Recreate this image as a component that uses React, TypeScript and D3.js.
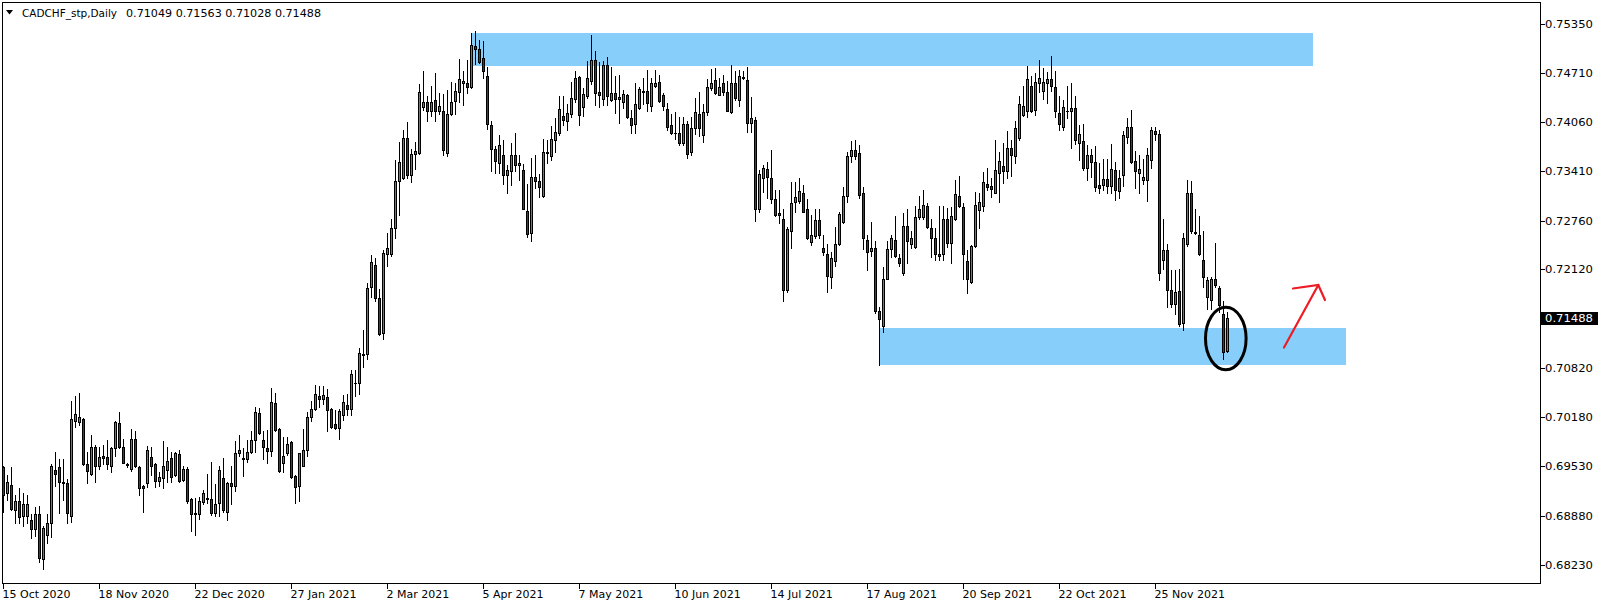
import React from 'react';
import * as d3 from 'd3';

const symbolTitle = 'CADCHF_stp,Daily';
const lastBarText = '0.71049 0.71563 0.71028 0.71488';

const open = [
0.6952,0.6918,0.6928,0.6895,0.6907,0.6887,0.6887,0.6883,0.6870,0.6890,
0.6831,0.6862,0.6878,0.6948,0.6952,0.6933,0.6931,0.6887,0.7012,0.7011,
0.7015,0.6956,0.6943,0.6979,0.6953,0.6966,0.6965,0.6954,0.6977,0.7010,
0.6978,0.6956,0.6949,0.6989,0.6952,0.6927,0.6931,0.6965,0.6956,0.6934,
0.6937,0.6948,0.6964,0.6942,0.6969,0.6935,0.6950,0.6910,0.6892,0.6890,
0.6906,0.6910,0.6910,0.6892,0.6905,0.6937,0.6893,0.6931,0.6927,0.6970,
0.6964,0.6963,0.6972,0.6987,0.7023,0.6987,0.6977,0.6973,0.7036,0.7002,
0.6958,0.6971,0.6985,0.6940,0.6927,0.6954,0.6975,0.7018,0.7029,0.7045,
0.7041,0.7044,0.7028,0.7009,0.7004,0.7021,0.7034,0.7029,0.7062,0.7063,
0.7100,0.7101,0.7189,0.7218,0.7175,0.7128,0.7233,0.7233,0.7266,0.7329,
0.7333,0.7385,0.7336,0.7364,0.7365,0.7426,0.7433,0.7421,0.7435,0.7420,
0.7421,0.7365,0.7416,0.7434,0.7445,0.7457,0.7457,0.7452,0.7506,0.7502,
0.7490,0.7467,0.7402,0.7370,0.7352,0.7363,0.7336,0.7342,0.7362,0.7349,
0.7343,0.7289,0.7260,0.7334,0.7329,0.7309,0.7365,0.7361,0.7383,0.7391,
0.7414,0.7407,0.7416,0.7436,0.7465,0.7426,0.7440,0.7460,0.7488,0.7446,
0.7436,0.7481,0.7435,0.7444,0.7436,0.7432,0.7442,0.7411,0.7404,0.7424,
0.7446,0.7447,0.7427,0.7453,0.7459,0.7441,0.7423,0.7402,0.7392,0.7391,
0.7378,0.7404,0.7366,0.7398,0.7417,0.7389,0.7419,0.7451,0.7461,0.7442,
0.7457,0.7446,0.7419,0.7457,0.7435,0.7464,0.7461,0.7405,0.7409,0.7291,
0.7332,0.7344,0.7333,0.7305,0.7286,0.7279,0.7185,0.7262,0.7301,0.7302,
0.7312,0.7291,0.7248,0.7256,0.7277,0.7240,0.7233,0.7202,0.7223,0.7245,
0.7275,0.7309,0.7361,0.7369,0.7365,0.7312,0.7251,0.7236,0.7240,0.7157,
0.7137,0.7200,0.7239,0.7251,0.7227,0.7208,0.7269,0.7245,0.7242,0.7281,
0.7281,0.7296,0.7266,0.7254,0.7233,0.7233,0.7278,0.7247,0.7279,0.7309,
0.7294,0.7223,0.7195,0.7243,0.7290,0.7296,0.7325,0.7322,0.7313,0.7339,
0.7348,0.7342,0.7372,0.7361,0.7385,0.7415,0.7420,0.7454,0.7422,0.7457,
0.7447,0.7457,0.7462,0.7452,0.7418,0.7400,0.7420,0.7420,0.7424,0.7379,
0.7381,0.7345,0.7363,0.7354,0.7323,0.7323,0.7331,0.7322,0.7343,0.7315,
0.7336,0.7386,0.7399,0.7355,0.7339,0.7330,0.7330,0.7356,0.7394,0.7390,
0.7225,0.7238,0.7185,0.7166,0.7184,0.7142,0.7246,0.7313,0.7261,0.7257,
0.7224,0.7176,0.7172,0.7199,0.7187,0.7154,0.71049
];

const high = [
0.6954,0.6942,0.6952,0.6915,0.6925,0.6918,0.6915,0.6890,0.6900,0.6901,
0.6875,0.6890,0.6956,0.6972,0.6962,0.6962,0.6936,0.7039,0.7045,0.7050,
0.7016,0.6972,0.6994,0.6981,0.6978,0.6981,0.6987,0.6979,0.7013,0.7024,
0.6989,0.6958,0.7002,0.6999,0.6953,0.6928,0.6980,0.6978,0.6957,0.6945,
0.6986,0.6979,0.6972,0.6972,0.6974,0.6953,0.6952,0.6911,0.6911,0.6912,
0.6922,0.6943,0.6959,0.6930,0.6953,0.6964,0.6932,0.6953,0.6986,0.6994,
0.6977,0.6987,0.6999,0.7031,0.7030,0.6999,0.7001,0.7056,0.7049,0.7004,
0.6992,0.6991,0.6986,0.6942,0.6971,0.7002,0.7024,0.7039,0.7060,0.7059,
0.7059,0.7055,0.7030,0.7027,0.7028,0.7047,0.7048,0.7080,0.7080,0.7109,
0.7133,0.7194,0.7231,0.7227,0.7186,0.7237,0.7260,0.7279,0.7356,0.7380,
0.7396,0.7406,0.7371,0.7380,0.7456,0.7473,0.7440,0.7454,0.7470,0.7444,
0.7443,0.7448,0.7459,0.7457,0.7489,0.7473,0.7487,0.7523,0.7526,0.7514,
0.7512,0.7479,0.7408,0.7374,0.7389,0.7383,0.7350,0.7378,0.7391,0.7363,
0.7351,0.7324,0.7359,0.7363,0.7338,0.7384,0.7383,0.7401,0.7411,0.7440,
0.7440,0.7430,0.7459,0.7473,0.7467,0.7451,0.7486,0.7521,0.7500,0.7485,
0.7486,0.7492,0.7479,0.7466,0.7468,0.7448,0.7443,0.7422,0.7457,0.7452,
0.7464,0.7475,0.7464,0.7475,0.7468,0.7444,0.7431,0.7416,0.7419,0.7412,
0.7412,0.7408,0.7413,0.7438,0.7445,0.7430,0.7462,0.7476,0.7477,0.7464,
0.7468,0.7460,0.7481,0.7473,0.7474,0.7473,0.7479,0.7439,0.7413,0.7343,
0.7349,0.7353,0.7369,0.7316,0.7316,0.7291,0.7268,0.7327,0.7327,0.7332,
0.7323,0.7305,0.7284,0.7291,0.7291,0.7257,0.7246,0.7235,0.7268,0.7287,
0.7320,0.7367,0.7381,0.7382,0.7376,0.7320,0.7258,0.7274,0.7250,0.7163,
0.7215,0.7250,0.7257,0.7282,0.7233,0.7286,0.7291,0.7263,0.7295,0.7309,
0.7317,0.7299,0.7279,0.7266,0.7295,0.7295,0.7293,0.7294,0.7330,0.7335,
0.7300,0.7238,0.7244,0.7314,0.7312,0.7340,0.7345,0.7333,0.7382,0.7367,
0.7378,0.7394,0.7382,0.7407,0.7440,0.7453,0.7480,0.7466,0.7471,0.7488,
0.7477,0.7472,0.7493,0.7473,0.7440,0.7435,0.7453,0.7458,0.7440,0.7402,
0.7404,0.7376,0.7371,0.7375,0.7352,0.7358,0.7358,0.7377,0.7354,0.7343,
0.7394,0.7411,0.7422,0.7368,0.7363,0.7357,0.7372,0.7400,0.7399,0.7396,
0.7279,0.7246,0.7211,0.7211,0.7213,0.7260,0.7330,0.7329,0.7291,0.7282,
0.7262,0.7202,0.7202,0.7247,0.7190,0.7170,0.71563
];

const low = [
0.6893,0.6909,0.6896,0.6879,0.6879,0.6874,0.6879,0.6859,0.6861,0.6827,
0.6818,0.6852,0.6860,0.6927,0.6891,0.6909,0.6879,0.6880,0.7005,0.7007,
0.6955,0.6931,0.6941,0.6933,0.6949,0.6956,0.6950,0.6945,0.6967,0.6977,
0.6957,0.6952,0.6947,0.6952,0.6915,0.6893,0.6926,0.6942,0.6926,0.6927,
0.6925,0.6932,0.6932,0.6940,0.6933,0.6934,0.6905,0.6868,0.6862,0.6884,
0.6904,0.6905,0.6889,0.6887,0.6887,0.6893,0.6883,0.6904,0.6920,0.6967,
0.6940,0.6959,0.6971,0.6972,0.6995,0.6963,0.6957,0.6966,0.6999,0.6946,
0.6945,0.6968,0.6937,0.6905,0.6908,0.6953,0.6967,0.7012,0.7027,0.7031,
0.7035,0.7000,0.7004,0.7002,0.6989,0.7014,0.7020,0.7020,0.7046,0.7048,
0.7084,0.7094,0.7176,0.7171,0.7126,0.7120,0.7216,0.7230,0.7253,0.7284,
0.7331,0.7333,0.7327,0.7344,0.7364,0.7422,0.7408,0.7414,0.7408,0.7416,
0.7362,0.7361,0.7415,0.7417,0.7432,0.7428,0.7444,0.7451,0.7482,0.7484,
0.7464,0.7397,0.7341,0.7339,0.7339,0.7324,0.7313,0.7323,0.7341,0.7330,
0.7291,0.7255,0.7249,0.7319,0.7308,0.7308,0.7352,0.7356,0.7367,0.7389,
0.7402,0.7395,0.7413,0.7432,0.7402,0.7414,0.7438,0.7456,0.7428,0.7426,
0.7429,0.7429,0.7434,0.7418,0.7405,0.7425,0.7411,0.7392,0.7392,0.7423,
0.7430,0.7421,0.7421,0.7452,0.7432,0.7422,0.7396,0.7390,0.7384,0.7376,
0.7376,0.7359,0.7363,0.7390,0.7388,0.7380,0.7415,0.7448,0.7443,0.7441,
0.7442,0.7420,0.7418,0.7435,0.7427,0.7462,0.7393,0.7393,0.7276,0.7288,
0.7314,0.7306,0.7299,0.7283,0.7273,0.7171,0.7183,0.7240,0.7287,0.7300,
0.7287,0.7252,0.7244,0.7253,0.7253,0.7231,0.7183,0.7188,0.7217,0.7244,
0.7273,0.7301,0.7354,0.7358,0.7306,0.7239,0.7211,0.7230,0.7155,0.7086,
0.7130,0.7199,0.7228,0.7229,0.7216,0.7205,0.7220,0.7240,0.7240,0.7279,
0.7279,0.7266,0.7229,0.7225,0.7225,0.7225,0.7242,0.7220,0.7277,0.7294,
0.7200,0.7181,0.7194,0.7242,0.7266,0.7289,0.7317,0.7308,0.7312,0.7301,
0.7326,0.7332,0.7335,0.7352,0.7383,0.7414,0.7413,0.7419,0.7415,0.7445,
0.7436,0.7431,0.7447,0.7413,0.7396,0.7396,0.7411,0.7372,0.7377,0.7356,
0.7343,0.7330,0.7334,0.7315,0.7312,0.7316,0.7312,0.7312,0.7304,0.7306,
0.7322,0.7379,0.7352,0.7319,0.7313,0.7325,0.7302,0.7346,0.7382,0.7198,
0.7213,0.7163,0.7163,0.7154,0.7138,0.7132,0.7243,0.7260,0.7259,0.7231,
0.7189,0.7160,0.7160,0.7189,0.7156,0.7094,0.71028
];

const close = [
0.6915,0.6933,0.6897,0.6907,0.6886,0.6904,0.6903,0.6870,0.6890,0.6832,
0.6872,0.6879,0.6954,0.6943,0.6933,0.6931,0.6891,0.7015,0.7022,0.7018,
0.6956,0.6947,0.6979,0.6954,0.6965,0.6964,0.6956,0.6977,0.7011,0.6979,
0.6958,0.6955,0.6989,0.6953,0.6925,0.6925,0.6975,0.6954,0.6934,0.6939,
0.6953,0.6960,0.6939,0.6970,0.6934,0.6950,0.6907,0.6890,0.6890,0.6908,
0.6918,0.6911,0.6891,0.6904,0.6948,0.6895,0.6931,0.6927,0.6970,0.6975,
0.6962,0.6972,0.6987,0.7024,0.6997,0.6979,0.6973,0.7037,0.7001,0.6947,
0.6967,0.6983,0.6939,0.6926,0.6970,0.6975,0.7018,0.7029,0.7048,0.7041,
0.7047,0.7027,0.7005,0.7004,0.7026,0.7037,0.7029,0.7075,0.7063,0.7102,
0.7101,0.7188,0.7222,0.7175,0.7127,0.7234,0.7240,0.7266,0.7329,0.7353,
0.7385,0.7336,0.7364,0.7368,0.7445,0.7432,0.7420,0.7433,0.7421,0.7427,
0.7369,0.7416,0.7433,0.7447,0.7463,0.7460,0.7452,0.7508,0.7502,0.7485,
0.7473,0.7403,0.7370,0.7355,0.7376,0.7336,0.7343,0.7362,0.7349,0.7352,
0.7292,0.7259,0.7334,0.7329,0.7320,0.7366,0.7367,0.7384,0.7393,0.7423,
0.7409,0.7418,0.7438,0.7464,0.7415,0.7443,0.7464,0.7488,0.7444,0.7442,
0.7481,0.7440,0.7444,0.7436,0.7439,0.7443,0.7412,0.7402,0.7430,0.7449,
0.7447,0.7431,0.7458,0.7458,0.7434,0.7427,0.7400,0.7392,0.7391,0.7379,
0.7403,0.7364,0.7398,0.7419,0.7398,0.7419,0.7452,0.7458,0.7444,0.7452,
0.7446,0.7421,0.7457,0.7438,0.7466,0.7465,0.7405,0.7411,0.7291,0.7338,
0.7345,0.7334,0.7305,0.7284,0.7284,0.7185,0.7265,0.7299,0.7307,0.7315,
0.7288,0.7253,0.7257,0.7277,0.7258,0.7235,0.7204,0.7227,0.7245,0.7285,
0.7309,0.7361,0.7369,0.7361,0.7310,0.7253,0.7235,0.7240,0.7157,0.7147,
0.7200,0.7239,0.7253,0.7230,0.7221,0.7269,0.7250,0.7253,0.7281,0.7291,
0.7297,0.7268,0.7254,0.7233,0.7230,0.7278,0.7247,0.7282,0.7311,0.7295,
0.7233,0.7199,0.7243,0.7297,0.7301,0.7327,0.7321,0.7318,0.7343,0.7355,
0.7342,0.7372,0.7362,0.7398,0.7430,0.7427,0.7462,0.7420,0.7459,0.7464,
0.7459,0.7462,0.7454,0.7420,0.7404,0.7426,0.7421,0.7424,0.7382,0.7390,
0.7345,0.7362,0.7354,0.7321,0.7319,0.7331,0.7322,0.7344,0.7317,0.7333,
0.7389,0.7399,0.7353,0.7341,0.7344,0.7334,0.7363,0.7396,0.7390,0.7207,
0.7238,0.7185,0.7167,0.7182,0.7140,0.7253,0.7313,0.7262,0.7260,0.7232,
0.7202,0.7198,0.7200,0.7192,0.7165,0.7104,0.71488
];

const dateLabels = ['15 Oct 2020', '18 Nov 2020', '22 Dec 2020', '27 Jan 2021', '2 Mar 2021', '5 Apr 2021', '7 May 2021', '10 Jun 2021', '14 Jul 2021', '17 Aug 2021', '20 Sep 2021', '22 Oct 2021', '25 Nov 2021'];
const dateLabelBars = [0, 24, 48, 72, 96, 120, 144, 168, 192, 216, 240, 264, 288];
const priceTicks = [0.7535, 0.7471, 0.7406, 0.7341, 0.7276, 0.7212, 0.7082, 0.7018, 0.6953, 0.6888, 0.6823];
const lastPrice = 0.71488;

// supply / demand zones: start bar, end bar, top price, bottom price
const zoneStart = [117, 219];
const zoneEnd = [327.4, 335.6];
const zoneTop = [0.75232, 0.7135];
const zoneBottom = [0.74797, 0.70863];

const W = 1604;
const H = 607;
const frameL = 2.5, frameR = 1540.5, frameT = 2.5, frameB = 583.5;
const BULL = '#00c800';
const BEAR = '#d20000';
const FONT = '"DejaVu Sans", Verdana, sans-serif';

export default function App() {
  const n = open.length;
  const x = d3.scaleLinear().domain([0, n - 1]).range([3.5, 3.5 + 4 * (n - 1)]);
  const y = d3.scaleLinear().domain([0.6823, 0.7535]).range([565.1, 24]);

  const candles = d3.range(n).map((i) => {
    const cx = Math.floor(x(i));
    const o = open[i], c = close[i], h = high[i], l = low[i];
    const top = Math.round(y(Math.max(o, c)));
    const bot = Math.round(y(Math.min(o, c)));
    const wTop = Math.round(y(h));
    const wBot = Math.round(y(l));
    const bull = c >= o;
    return (
      <g key={i}>
        <rect x={cx} y={wTop} width={1} height={Math.max(1, wBot - wTop + 1)} fill="#000" />
        <rect x={cx - 1} y={top} width={3} height={Math.max(1, bot - top + 1)} fill="#000" />
        {bot - top > 1 && (
          <rect x={cx} y={top + 1} width={1} height={bot - top - 1} fill={bull ? BULL : BEAR} />
        )}
      </g>
    );
  });

  const zones = zoneStart.map((s, k) => (
    <rect key={k} x={x(s)} y={y(zoneTop[k])} width={x(zoneEnd[k]) - x(s)} height={y(zoneBottom[k]) - y(zoneTop[k])} fill="#87cefa" />
  ));

  const lastY = Math.round(y(lastPrice));

  return (
    <svg width={W} height={H} style={{ position: 'absolute', left: 0, top: 0, background: '#fff' }} shapeRendering="crispEdges">
      <rect x={0} y={0} width={W} height={H} fill="#fff" />
      {zones}
      {candles}
      <path d={`M${frameL},${frameT}H${frameR}V${frameB}H${frameL}Z`} fill="none" stroke="#000" strokeWidth={1} />
      {priceTicks.map((p, k) => (
        <g key={k}>
          <line x1={frameR} x2={frameR + 4} y1={Math.round(y(p)) + 0.5} y2={Math.round(y(p)) + 0.5} stroke="#000" />
          <text x={1545} y={y(p) + 4} fontFamily={FONT} fontSize={11} fill="#000" textLength={48} lengthAdjust="spacingAndGlyphs">{p.toFixed(5)}</text>
        </g>
      ))}
      <line x1={frameR} x2={frameR + 4} y1={lastY + 0.5} y2={lastY + 0.5} stroke="#000" />
      <rect x={1541} y={lastY - 6} width={57} height={13} fill="#000" />
      <text x={1545} y={lastY + 4} fontFamily={FONT} fontSize={11} fill="#fff" textLength={48} lengthAdjust="spacingAndGlyphs">{lastPrice.toFixed(5)}</text>
      {dateLabels.map((t, k) => {
        const tx = Math.floor(x(dateLabelBars[k])) + 0.5;
        return (
          <g key={k}>
            <line x1={tx} x2={tx} y1={frameB} y2={frameB + 5} stroke="#000" />
            <text x={tx - 1} y={598} fontFamily={FONT} fontSize={11} fill="#000">{t}</text>
          </g>
        );
      })}
      <path d="M6,10L13,10L9.5,14.5Z" fill="#000" shapeRendering="auto" />
      <text x={22} y={17} fontFamily={FONT} fontSize={11} fill="#000" textLength={95} lengthAdjust="spacingAndGlyphs">{symbolTitle}</text>
      <text x={126} y={17} fontFamily={FONT} fontSize={11} fill="#000" textLength={195} lengthAdjust="spacingAndGlyphs">{lastBarText}</text>
      <ellipse cx={1225.8} cy={338.5} rx={20.3} ry={31.3} fill="none" stroke="#000" strokeWidth={3} shapeRendering="auto" />
      <g stroke="#ed1c24" strokeWidth={2.2} fill="none" strokeLinecap="round" shapeRendering="auto">
        <path d="M1284,347.5L1318.3,285" />
        <path d="M1293,288.5L1318.3,285L1325,300" />
      </g>
    </svg>
  );
}
